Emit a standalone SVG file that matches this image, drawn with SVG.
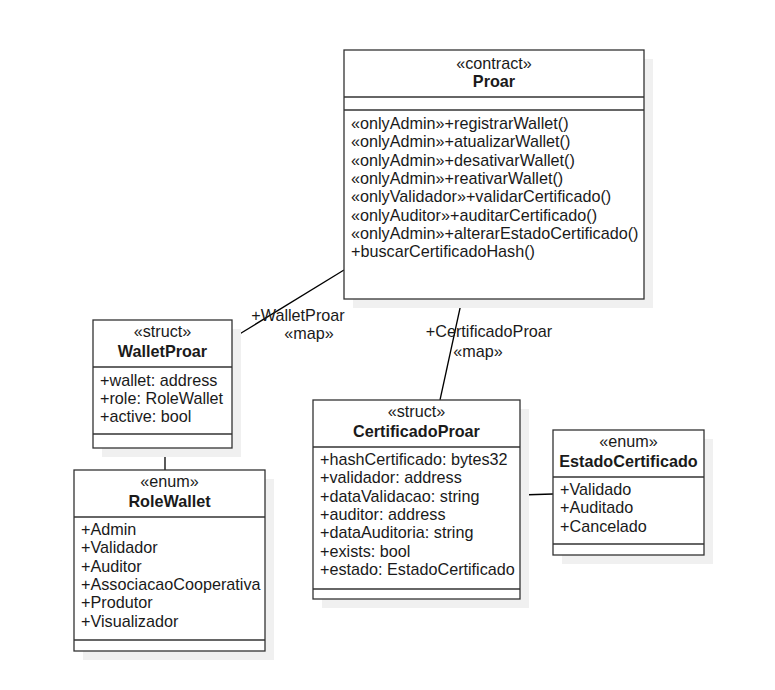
<svg xmlns="http://www.w3.org/2000/svg" width="775" height="690" viewBox="0 0 775 690">
<style>
.box{fill:#ffffff;stroke:#333333;stroke-width:1.3}
.sh{fill:#f0f0f0;stroke:none}
.sep{stroke:#333333;stroke-width:1.3;fill:none}
.t{font-family:"Liberation Sans",Arial,sans-serif;font-size:16.2px;fill:#1a1a1a}
.c{text-anchor:middle}
.b{font-weight:bold}
.con{stroke:#000000;stroke-width:1.3;fill:none}
</style>
<rect width="775" height="690" fill="#ffffff"/>
<g id="connectors">
<line class="con" x1="344" y1="270" x2="233" y2="338"/>
<line class="con" x1="462" y1="299" x2="440" y2="400"/>
<line class="con" x1="165" y1="448" x2="165" y2="470"/>
<line class="con" x1="520" y1="495" x2="553" y2="494"/>
<text class="t c" x="298" y="321">+WalletProar</text>
<text class="t c" x="309" y="339">«map»</text>
<text class="t c" x="489" y="337">+CertificadoProar</text>
<text class="t c" x="478" y="357">«map»</text>
</g>
<g id="Proar">
<rect class="sh" x="353" y="59" width="300" height="249"/>
<rect class="box" x="344" y="50" width="300" height="249"/>
<line class="sep" x1="344" y1="97" x2="644" y2="97"/>
<line class="sep" x1="344" y1="110" x2="644" y2="110"/>
<text class="t c" x="494" y="69">«contract»</text>
<text class="t c b" x="494" y="87">Proar</text>
<text class="t" x="351" y="129">«onlyAdmin»+registrarWallet()</text>
<text class="t" x="351" y="147.3">«onlyAdmin»+atualizarWallet()</text>
<text class="t" x="351" y="165.6">«onlyAdmin»+desativarWallet()</text>
<text class="t" x="351" y="183.9">«onlyAdmin»+reativarWallet()</text>
<text class="t" x="351" y="202.2">«onlyValidador»+validarCertificado()</text>
<text class="t" x="351" y="220.5">«onlyAuditor»+auditarCertificado()</text>
<text class="t" x="351" y="238.8">«onlyAdmin»+alterarEstadoCertificado()</text>
<text class="t" x="351" y="257.1">+buscarCertificadoHash()</text>
</g>
<g id="WalletProar">
<rect class="sh" x="102" y="329" width="139" height="128"/>
<rect class="box" x="93" y="320" width="139" height="128"/>
<line class="sep" x1="93" y1="367" x2="232" y2="367"/>
<line class="sep" x1="93" y1="434" x2="232" y2="434"/>
<text class="t c" x="162.5" y="337">«struct»</text>
<text class="t c b" x="162.5" y="357">WalletProar</text>
<text class="t" x="100" y="386">+wallet: address</text>
<text class="t" x="100" y="404">+role: RoleWallet</text>
<text class="t" x="100" y="422">+active: bool</text>
</g>
<g id="RoleWallet">
<rect class="sh" x="83" y="479" width="191" height="181"/>
<rect class="box" x="74" y="470" width="191" height="181"/>
<line class="sep" x1="74" y1="517" x2="265" y2="517"/>
<line class="sep" x1="74" y1="640" x2="265" y2="640"/>
<text class="t c" x="169.5" y="487">«enum»</text>
<text class="t c b" x="169.5" y="507">RoleWallet</text>
<text class="t" x="81" y="535">+Admin</text>
<text class="t" x="81" y="553.3">+Validador</text>
<text class="t" x="81" y="571.6">+Auditor</text>
<text class="t" x="81" y="589.9">+AssociacaoCooperativa</text>
<text class="t" x="81" y="608.2">+Produtor</text>
<text class="t" x="81" y="626.5">+Visualizador</text>
</g>
<g id="CertificadoProar">
<rect class="sh" x="322" y="409" width="207" height="199"/>
<rect class="box" x="313" y="400" width="207" height="199"/>
<line class="sep" x1="313" y1="447" x2="520" y2="447"/>
<line class="sep" x1="313" y1="589" x2="520" y2="589"/>
<text class="t c" x="416.5" y="417">«struct»</text>
<text class="t c b" x="416.5" y="437">CertificadoProar</text>
<text class="t" x="320" y="465">+hashCertificado: bytes32</text>
<text class="t" x="320" y="483.3">+validador: address</text>
<text class="t" x="320" y="501.6">+dataValidacao: string</text>
<text class="t" x="320" y="519.9">+auditor: address</text>
<text class="t" x="320" y="538.2">+dataAuditoria: string</text>
<text class="t" x="320" y="556.5">+exists: bool</text>
<text class="t" x="320" y="574.8">+estado: EstadoCertificado</text>
</g>
<g id="EstadoCertificado">
<rect class="sh" x="562" y="439" width="151" height="125"/>
<rect class="box" x="553" y="430" width="151" height="125"/>
<line class="sep" x1="553" y1="477" x2="704" y2="477"/>
<line class="sep" x1="553" y1="544" x2="704" y2="544"/>
<text class="t c" x="628.5" y="447">«enum»</text>
<text class="t c b" x="628.5" y="467">EstadoCertificado</text>
<text class="t" x="560" y="495">+Validado</text>
<text class="t" x="560" y="513.3">+Auditado</text>
<text class="t" x="560" y="531.6">+Cancelado</text>
</g>
</svg>
